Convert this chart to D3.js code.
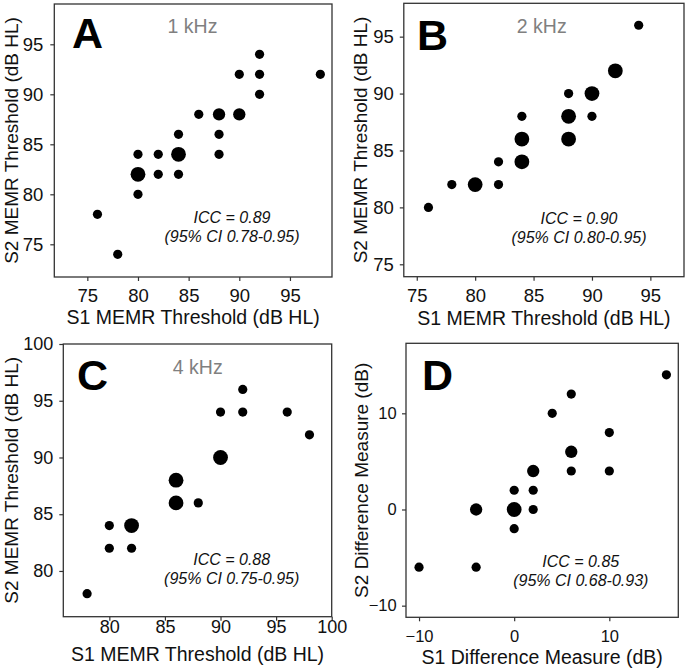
<!DOCTYPE html>
<html>
<head>
<meta charset="utf-8">
<script src="https://cdn.jsdelivr.net/npm/d3@7/dist/d3.min.js"></script>
<style>
  html, body { margin: 0; padding: 0; background: #fff; }
  svg { display: block; }
  text { font-family: "Liberation Sans", Arial, Helvetica, sans-serif; }
</style>
</head>
<body>
<svg id="chart" width="685" height="671"></svg>
<script>
// ---------------- DATA ----------------
// Panel A: 1 kHz
const s1_1k = [76, 78, 80, 80, 80, 82, 82, 84, 84, 84, 86, 88, 88, 88, 90, 90, 92, 92, 92, 98];
const s2_1k = [78, 74, 80, 82, 84, 84, 82, 86, 84, 82, 88, 88, 86, 84, 88, 92, 94, 92, 90, 92];
const n_1k  = [ 1,  1,  1,  3,  1,  1,  1,  1,  3,  1,  1,  2,  1,  1,  2,  1,  1,  1,  1,  1];
// Panel B: 2 kHz
const s1_2k = [76, 78, 80, 82, 82, 84, 84, 84, 88, 88, 88, 90, 90, 92, 94];
const s2_2k = [80, 82, 82, 84, 82, 88, 86, 84, 90, 88, 86, 90, 88, 92, 96];
const n_2k  = [ 1,  1,  2,  1,  1,  1,  2,  2,  1,  2,  2,  2,  1,  2,  1];
// Panel C: 4 kHz
const s1_4k = [78, 80, 80, 82, 82, 86, 86, 88, 90, 90, 92, 92, 96, 98];
const s2_4k = [78, 84, 82, 84, 82, 88, 86, 86, 90, 94, 96, 94, 94, 92];
const n_4k  = [ 1,  1,  1,  2,  1,  2,  2,  1,  2,  1,  1,  1,  1,  1];
// Panel D: difference measure
const s1_diff = [-10, -4, -4, 0, 0,  0, 2, 2, 2, 4,  6, 6, 6, 10, 10, 16];
const s2_diff = [ -6,  0, -6, 2, 0, -2, 4, 2, 0, 10, 12, 6, 4,  8,  4, 14];
const n_diff  = [  1,  2,  1, 1, 3,  1, 2, 1, 1, 1,  1, 2, 1,  1,  1,  1];

// tick labels
const ticksA = [75, 80, 85, 90, 95];
const ticksB = [75, 80, 85, 90, 95];
const ticksC = [80, 85, 90, 95, 100];
const ticksD = [-10, 0, 10];

// texts
const letters   = ["A", "B", "C", "D"];
const freqs     = ["1 kHz", "2 kHz", "4 kHz", ""];
const iccLine1  = ["ICC = 0.89", "ICC = 0.90", "ICC = 0.88", "ICC = 0.85"];
const iccLine2  = ["(95% CI 0.78-0.95)", "(95% CI 0.80-0.95)", "(95% CI 0.75-0.95)", "(95% CI 0.68-0.93)"];
const xTitles   = ["S1 MEMR Threshold (dB HL)", "S1 MEMR Threshold (dB HL)", "S1 MEMR Threshold (dB HL)", "S1 Difference Measure (dB)"];
const yTitles   = ["S2 MEMR Threshold (dB HL)", "S2 MEMR Threshold (dB HL)", "S2 MEMR Threshold (dB HL)", "S2 Difference Measure (dB)"];

// ---------------- LAYOUT ----------------
const layout = [
  { x0: 54.3, x1: 332,   y0: 4,     y1: 277,   xd: [71.74, 99.15], yd: [71.73, 99.03],
    s1: s1_1k, s2: s2_1k, n: n_1k, ticks: ticksA, tickFs: 18.5, xPad: 7.6, yPad: 7,
    letX: 72, letY: 48.3, fqX: 192.5, fqY: 33.3, iccX: 232, iccY: 223.3, xtY: 324, ytX: 17.5 },
  { x0: 403.8, x1: 684,  y0: 3.3,   y1: 276.7, xd: [73.89, 97.88], yd: [73.91, 97.93],
    s1: s1_2k, s2: s2_2k, n: n_2k, ticks: ticksB, tickFs: 18.5, xPad: 7.9, yPad: 6,
    letX: 417, letY: 50, fqX: 541.8, fqY: 33.3, iccX: 579, iccY: 224, xtY: 325, ytX: 366.5 },
  { x0: 63.3, x1: 331.7, y0: 344,   y1: 616.7, xd: [75.86, 100], yd: [75.97, 100],
    s1: s1_4k, s2: s2_4k, n: n_4k, ticks: ticksC, tickFs: 18, xPad: 0, yPad: 6,
    letX: 77, letY: 390, fqX: 197.8, fqY: 374, iccX: 231.7, iccY: 565, xtY: 661, ytX: 17.5 },
  { x0: 406, x1: 678.3,  y0: 343.3, y1: 617.3, xd: [-11.37, 17.25], yd: [-11.21, 17.28],
    s1: s1_diff, s2: s2_diff, n: n_diff, ticks: ticksD, tickFs: 16.5, xPad: 8.5, yPad: 5.3,
    letX: 422, letY: 390, fqX: 0, fqY: 0, iccX: 580.8, iccY: 566.7, xtY: 663.5, ytX: 368 }
];

const svg = d3.select("#chart");
const frameColor = "#333";

layout.forEach((p, i) => {
  const x = d3.scaleLinear().domain(p.xd).range([p.x0, p.x1]);
  const y = d3.scaleLinear().domain(p.yd).range([p.y1, p.y0]);
  const maxN = d3.max(p.n);
  const area = d3.scaleLinear().domain([1, Math.max(2, maxN)]).range([4.6 * 4.6, 7.4 * 7.4]);
  const r = v => Math.sqrt(area(v));

  const g = svg.append("g");

  // axes
  const xa = g.append("g").attr("transform", `translate(0,${p.y1})`)
    .call(d3.axisBottom(x).tickValues(p.ticks).tickSize(4).tickPadding(p.xPad).tickFormat(d3.format("d")));
  const ya = g.append("g").attr("transform", `translate(${p.x0},0)`)
    .call(d3.axisLeft(y).tickValues(p.ticks).tickSize(4).tickPadding(p.yPad).tickFormat(d3.format("d")));
  [xa, ya].forEach(a => {
    a.select(".domain").remove();
    a.selectAll(".tick line").attr("stroke", frameColor).attr("stroke-width", 1.2);
    a.selectAll(".tick text").attr("fill", "#111").style("font-size", p.tickFs + "px")
      .style("font-family", '"Liberation Sans", Arial, sans-serif');
  });

  // frame
  g.append("rect")
    .attr("x", p.x0).attr("y", p.y0)
    .attr("width", p.x1 - p.x0).attr("height", p.y1 - p.y0)
    .attr("fill", "none").attr("stroke", frameColor).attr("stroke-width", 1.3);

  // points
  const pts = p.s1.map((v, k) => ({ a: v, b: p.s2[k], n: p.n[k] }));
  g.append("g").selectAll("circle").data(pts).join("circle")
    .attr("cx", d => x(d.a)).attr("cy", d => y(d.b)).attr("r", d => r(d.n))
    .attr("fill", "#000");

  // panel letter
  g.append("text").attr("x", p.letX).attr("y", p.letY)
    .style("font-size", "43px").style("font-weight", "bold").attr("fill", "#000")
    .text(letters[i]);

  // frequency label
  if (freqs[i]) {
    g.append("text").attr("x", p.fqX).attr("y", p.fqY).attr("text-anchor", "middle")
      .style("font-size", "19.5px").attr("fill", "#808080").text(freqs[i]);
  }

  // ICC
  g.append("text").attr("x", p.iccX).attr("y", p.iccY).attr("text-anchor", "middle")
    .style("font-size", "16px").style("font-style", "italic").attr("fill", "#111").text(iccLine1[i]);
  g.append("text").attr("x", p.iccX).attr("y", p.iccY + 19).attr("text-anchor", "middle")
    .style("font-size", "16px").style("font-style", "italic").attr("fill", "#111").text(iccLine2[i]);

  // axis titles
  g.append("text").attr("x", (p.x0 + p.x1) / 2).attr("y", p.xtY).attr("text-anchor", "middle")
    .style("font-size", "19.5px").attr("fill", "#111").text(xTitles[i]);
  g.append("text")
    .attr("transform", `translate(${p.ytX},${(p.y0 + p.y1) / 2}) rotate(-90)`)
    .attr("text-anchor", "middle")
    .style("font-size", "19px").attr("fill", "#111").text(yTitles[i]);
});
</script>
</body>
</html>
